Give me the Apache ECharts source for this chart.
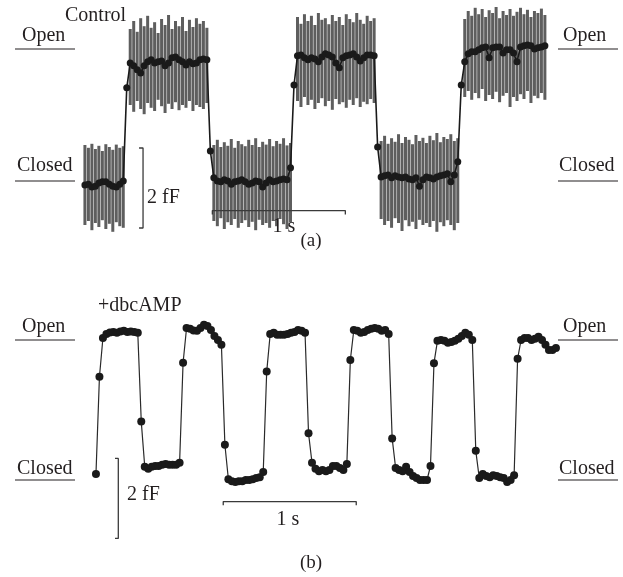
<!DOCTYPE html>
<html>
<head>
<meta charset="utf-8">
<script src="https://cdn.jsdelivr.net/npm/echarts@6/dist/echarts.min.js"></script>
<style>html,body{margin:0;padding:0;background:#fff;}#c{width:623px;height:577px;}</style>
</head>
<body>
<div id="c"></div>
<script>
// ---- data (time in s, capacitance in fF relative to closed level) ----
const sampleInterval = 0.0262;
const aStart = 0.037;
const bStart = 0.12;

// Panel (a) Control: mean capacitance per sample
const aMean = [
 -0.05,-0.03,-0.10,-0.08,0.00,0.03,0.03,-0.03,-0.08,-0.10,-0.03,0.05,
 2.38,
 3.00,2.93,2.83,2.75,2.93,3.03,3.08,3.00,3.03,3.05,2.93,3.00,3.13,3.15,3.08,3.03,2.95,3.03,2.98,3.00,3.08,3.10,3.08,
 0.80,
 0.13,0.05,0.03,0.08,0.05,-0.03,0.03,0.05,0.08,0.03,-0.03,0.00,0.05,0.03,-0.10,0.00,0.08,0.03,0.05,0.08,0.10,0.08,
 0.38,
 2.45,
 3.18,3.20,3.13,3.08,3.13,3.10,3.03,3.15,3.23,3.20,3.15,3.00,2.88,3.13,3.18,3.20,3.23,3.15,3.05,3.13,3.20,3.20,3.18,
 0.90,
 0.15,0.18,0.20,0.13,0.18,0.15,0.13,0.15,0.10,0.08,0.13,-0.08,0.08,0.15,0.13,0.10,0.15,0.18,0.20,0.23,0.03,0.20,
 0.53,
 2.45,
 3.03,3.23,3.28,3.28,3.33,3.38,3.40,3.13,3.38,3.40,3.40,3.25,3.33,3.33,3.25,3.03,3.40,3.43,3.45,3.43,3.35,3.38,3.40,3.43
];
// Panel (a) noise envelope, upper and lower values per sample
const aHigh = [
 0.95,0.88,0.98,0.85,0.93,0.80,0.97,0.90,0.83,0.96,0.88,0.92,
 null,
 3.85,4.05,3.78,4.12,3.92,4.18,3.88,4.02,3.75,4.10,3.95,4.20,3.85,4.05,3.92,4.15,3.80,4.08,3.90,4.12,3.98,4.05,3.88,
 null,
 0.95,1.08,0.90,1.02,0.93,1.10,0.88,1.05,0.97,0.92,1.08,0.95,1.12,0.90,1.03,0.96,1.10,0.92,1.05,0.98,1.12,0.94,1.00,
 null,
 4.15,3.98,4.22,4.05,4.18,3.95,4.25,4.08,4.12,3.97,4.20,4.05,4.15,3.95,4.22,4.10,4.02,4.25,4.08,3.98,4.18,4.05,4.12,
 null,
 1.05,1.18,0.98,1.12,1.03,1.22,1.00,1.15,1.08,0.97,1.20,1.05,1.13,1.00,1.18,1.07,1.25,1.02,1.15,1.10,1.22,1.05,1.12,
 null,
 4.10,4.30,4.18,4.38,4.22,4.35,4.15,4.32,4.25,4.40,4.12,4.30,4.20,4.35,4.18,4.28,4.38,4.22,4.33,4.15,4.30,4.25,4.36,4.20
];
const aLow = [
 -1.05,-0.95,-1.18,-1.00,-1.10,-0.93,-1.15,-1.02,-1.22,-0.98,-1.08,-1.12,
 null,
 1.95,1.78,2.05,1.85,1.72,2.00,1.88,1.80,2.08,1.92,1.75,1.98,1.85,2.02,1.82,1.95,1.88,2.05,1.80,1.95,1.90,1.85,2.00,
 null,
 -0.95,-1.08,-0.88,-1.15,-0.98,-1.05,-0.90,-1.12,-1.00,-0.93,-1.10,-0.97,-1.18,-0.92,-1.05,-1.00,-1.12,-0.95,-1.08,-0.90,-1.03,-1.15,-0.98,
 null,
 2.05,1.90,2.15,1.95,2.08,1.85,2.00,2.12,1.92,2.05,1.83,2.10,1.97,2.02,1.88,2.08,1.95,2.12,1.90,2.03,1.97,2.10,2.00,
 null,
 -0.90,-1.05,-0.95,-1.12,-0.88,-1.00,-1.20,-0.93,-1.08,-0.97,-1.15,-0.92,-1.05,-1.00,-1.10,-0.95,-1.22,-0.98,-1.08,-0.93,-1.05,-1.18,-1.00,
 null,
 2.15,2.30,2.08,2.25,2.12,2.35,2.05,2.20,2.10,2.28,2.02,2.18,2.25,1.90,2.15,2.05,2.22,2.10,2.30,2.00,2.18,2.12,2.25,2.08
];

// Panel (b) +dbcAMP: mean capacitance per sample
const bMean = [
 -0.10,
 2.33,
 3.30,3.40,3.44,3.45,3.43,3.46,3.48,3.45,3.46,3.45,3.43,
 1.21,
 0.08,0.03,0.08,0.10,0.10,0.13,0.15,0.13,0.13,0.13,0.18,
 2.68,
 3.55,3.53,3.49,3.48,3.55,3.63,3.60,3.50,3.35,3.25,3.13,
 0.63,
 -0.23,-0.28,-0.30,-0.28,-0.28,-0.25,-0.25,-0.23,-0.20,-0.18,-0.05,
 2.46,
 3.40,3.43,3.38,3.38,3.38,3.40,3.43,3.45,3.50,3.48,3.43,
 0.92,
 0.18,0.03,-0.03,0.00,-0.03,0.00,0.10,0.10,0.05,0.00,0.15,
 2.75,
 3.50,3.48,3.43,3.45,3.50,3.53,3.55,3.53,3.48,3.50,3.40,
 0.79,
 0.05,0.00,-0.03,0.08,-0.05,-0.15,-0.20,-0.25,-0.25,-0.25,0.10,
 2.67,
 3.23,3.25,3.23,3.18,3.20,3.23,3.28,3.35,3.43,3.38,3.25,
 0.48,
 -0.20,-0.10,-0.15,-0.18,-0.13,-0.15,-0.18,-0.20,-0.30,-0.25,-0.13,
 2.78,
 3.25,3.30,3.30,3.25,3.28,3.33,3.25,3.13,3.00,3.00,3.05
];

// scale bars (s, fF)
const aTimeBar = [0.995, 1.995], aTimeBarLevel = -0.69;
const aCapBar = [0.875, -1.125], aCapBarTime = 0.474;
const bTimeBar = [1.077, 2.077], bTimeBarLevel = -0.79;
const bCapBar = [0.29, -1.71], bCapBarTime = 0.288;

// ---- build ----
const aTrace = aMean.map((v, i) => [aStart + i * sampleInterval, v]);
const aNoise = aMean.map((v, i) => [aStart + i * sampleInterval, aHigh[i], aLow[i]]);
const bTrace = bMean.map((v, i) => [bStart + i * sampleInterval, v]);

const FONT = '"Liberation Serif","DejaVu Serif",serif';
const INK = '#231f20';

function txt(x, y, s, size, align) {
  return {type: 'text', x: x, y: y, z: 10,
    style: {text: s, font: size + 'px ' + FONT, fill: INK,
      textAlign: align || 'left', textVerticalAlign: 'middle',
      align: align || 'left', verticalAlign: 'middle'}};
}
function hline(x1, x2, y) {
  return {type: 'line', z: 10, shape: {x1: x1, y1: y, x2: x2, y2: y},
    style: {stroke: INK, lineWidth: 1.2}};
}

const barStroke = {color: '#3a3a3a', width: 1.3};

const option = {
  animation: false,
  backgroundColor: '#ffffff',
  grid: [
    {left: 80, top: 3, width: 478.8, height: 240},
    {left: 80, top: 290, width: 478.8, height: 260}
  ],
  xAxis: [
    {type: 'value', gridIndex: 0, min: 0, max: 3.6, show: false},
    {type: 'value', gridIndex: 1, min: 0, max: 3.6, show: false}
  ],
  yAxis: [
    {type: 'value', gridIndex: 0, min: -1.5, max: 4.5, show: false},
    {type: 'value', gridIndex: 1, min: -2, max: 4.5, show: false}
  ],
  series: [
    {
      type: 'custom', xAxisIndex: 0, yAxisIndex: 0, data: aNoise, silent: true,
      renderItem: function (params, api) {
        const hi = api.value(1), lo = api.value(2);
        if (isNaN(hi) || isNaN(lo)) return null;
        const p1 = api.coord([api.value(0), hi]);
        const p2 = api.coord([api.value(0), lo]);
        return {type: 'line', shape: {x1: p1[0], y1: p1[1], x2: p2[0], y2: p2[1]},
          style: {stroke: '#5e5e5e', lineWidth: 3.0}};
      }
    },
    {
      type: 'line', xAxisIndex: 0, yAxisIndex: 0, data: aTrace,
      symbol: 'circle', symbolSize: 7, showSymbol: true,
      itemStyle: {color: '#1a1a1a'}, lineStyle: {color: '#1a1a1a', width: 1.6}, z: 3
    },
    {
      type: 'line', xAxisIndex: 0, yAxisIndex: 0, symbol: 'none', z: 4, lineStyle: barStroke,
      data: [[aTimeBar[0], aTimeBarLevel - 0.1], [aTimeBar[0], aTimeBarLevel], [aTimeBar[1], aTimeBarLevel], [aTimeBar[1], aTimeBarLevel - 0.1]]
    },
    {
      type: 'line', xAxisIndex: 0, yAxisIndex: 0, symbol: 'none', z: 4, lineStyle: barStroke,
      data: [[aCapBarTime - 0.03, aCapBar[0]], [aCapBarTime, aCapBar[0]], [aCapBarTime, aCapBar[1]], [aCapBarTime - 0.03, aCapBar[1]]]
    },
    {
      type: 'line', xAxisIndex: 1, yAxisIndex: 1, data: bTrace,
      symbol: 'circle', symbolSize: 8, showSymbol: true,
      itemStyle: {color: '#1a1a1a'}, lineStyle: {color: '#2a2a2a', width: 1.2}, z: 3
    },
    {
      type: 'line', xAxisIndex: 1, yAxisIndex: 1, symbol: 'none', z: 4, lineStyle: barStroke,
      data: [[bTimeBar[0], bTimeBarLevel - 0.09], [bTimeBar[0], bTimeBarLevel], [bTimeBar[1], bTimeBarLevel], [bTimeBar[1], bTimeBarLevel - 0.09]]
    },
    {
      type: 'line', xAxisIndex: 1, yAxisIndex: 1, symbol: 'none', z: 4, lineStyle: barStroke,
      data: [[bCapBarTime - 0.025, bCapBar[0]], [bCapBarTime, bCapBar[0]], [bCapBarTime, bCapBar[1]], [bCapBarTime - 0.025, bCapBar[1]]]
    }
  ],
  graphic: [
    txt(65, 16, 'Control', 20),
    txt(22, 36, 'Open', 20), hline(15, 75, 49),
    txt(17, 166, 'Closed', 20), hline(15, 75, 181),
    txt(563, 36, 'Open', 20), hline(558, 618, 49),
    txt(559, 166, 'Closed', 20), hline(558, 618, 181),
    txt(147, 198, '2 fF', 20),
    txt(284, 227, '1 s', 20, 'center'),
    txt(311, 241, '(a)', 19, 'center'),
    txt(98, 306, '+dbcAMP', 20),
    txt(22, 327, 'Open', 20), hline(15, 75, 340),
    txt(17, 469, 'Closed', 20), hline(15, 75, 480),
    txt(563, 327, 'Open', 20), hline(558, 618, 340),
    txt(559, 469, 'Closed', 20), hline(558, 618, 480),
    txt(127, 495, '2 fF', 20),
    txt(288, 520, '1 s', 20, 'center'),
    txt(311, 563, '(b)', 19, 'center')
  ]
};

const chart = echarts.init(document.getElementById('c'), null, {renderer: 'canvas'});
chart.setOption(option);
</script>
</body>
</html>
